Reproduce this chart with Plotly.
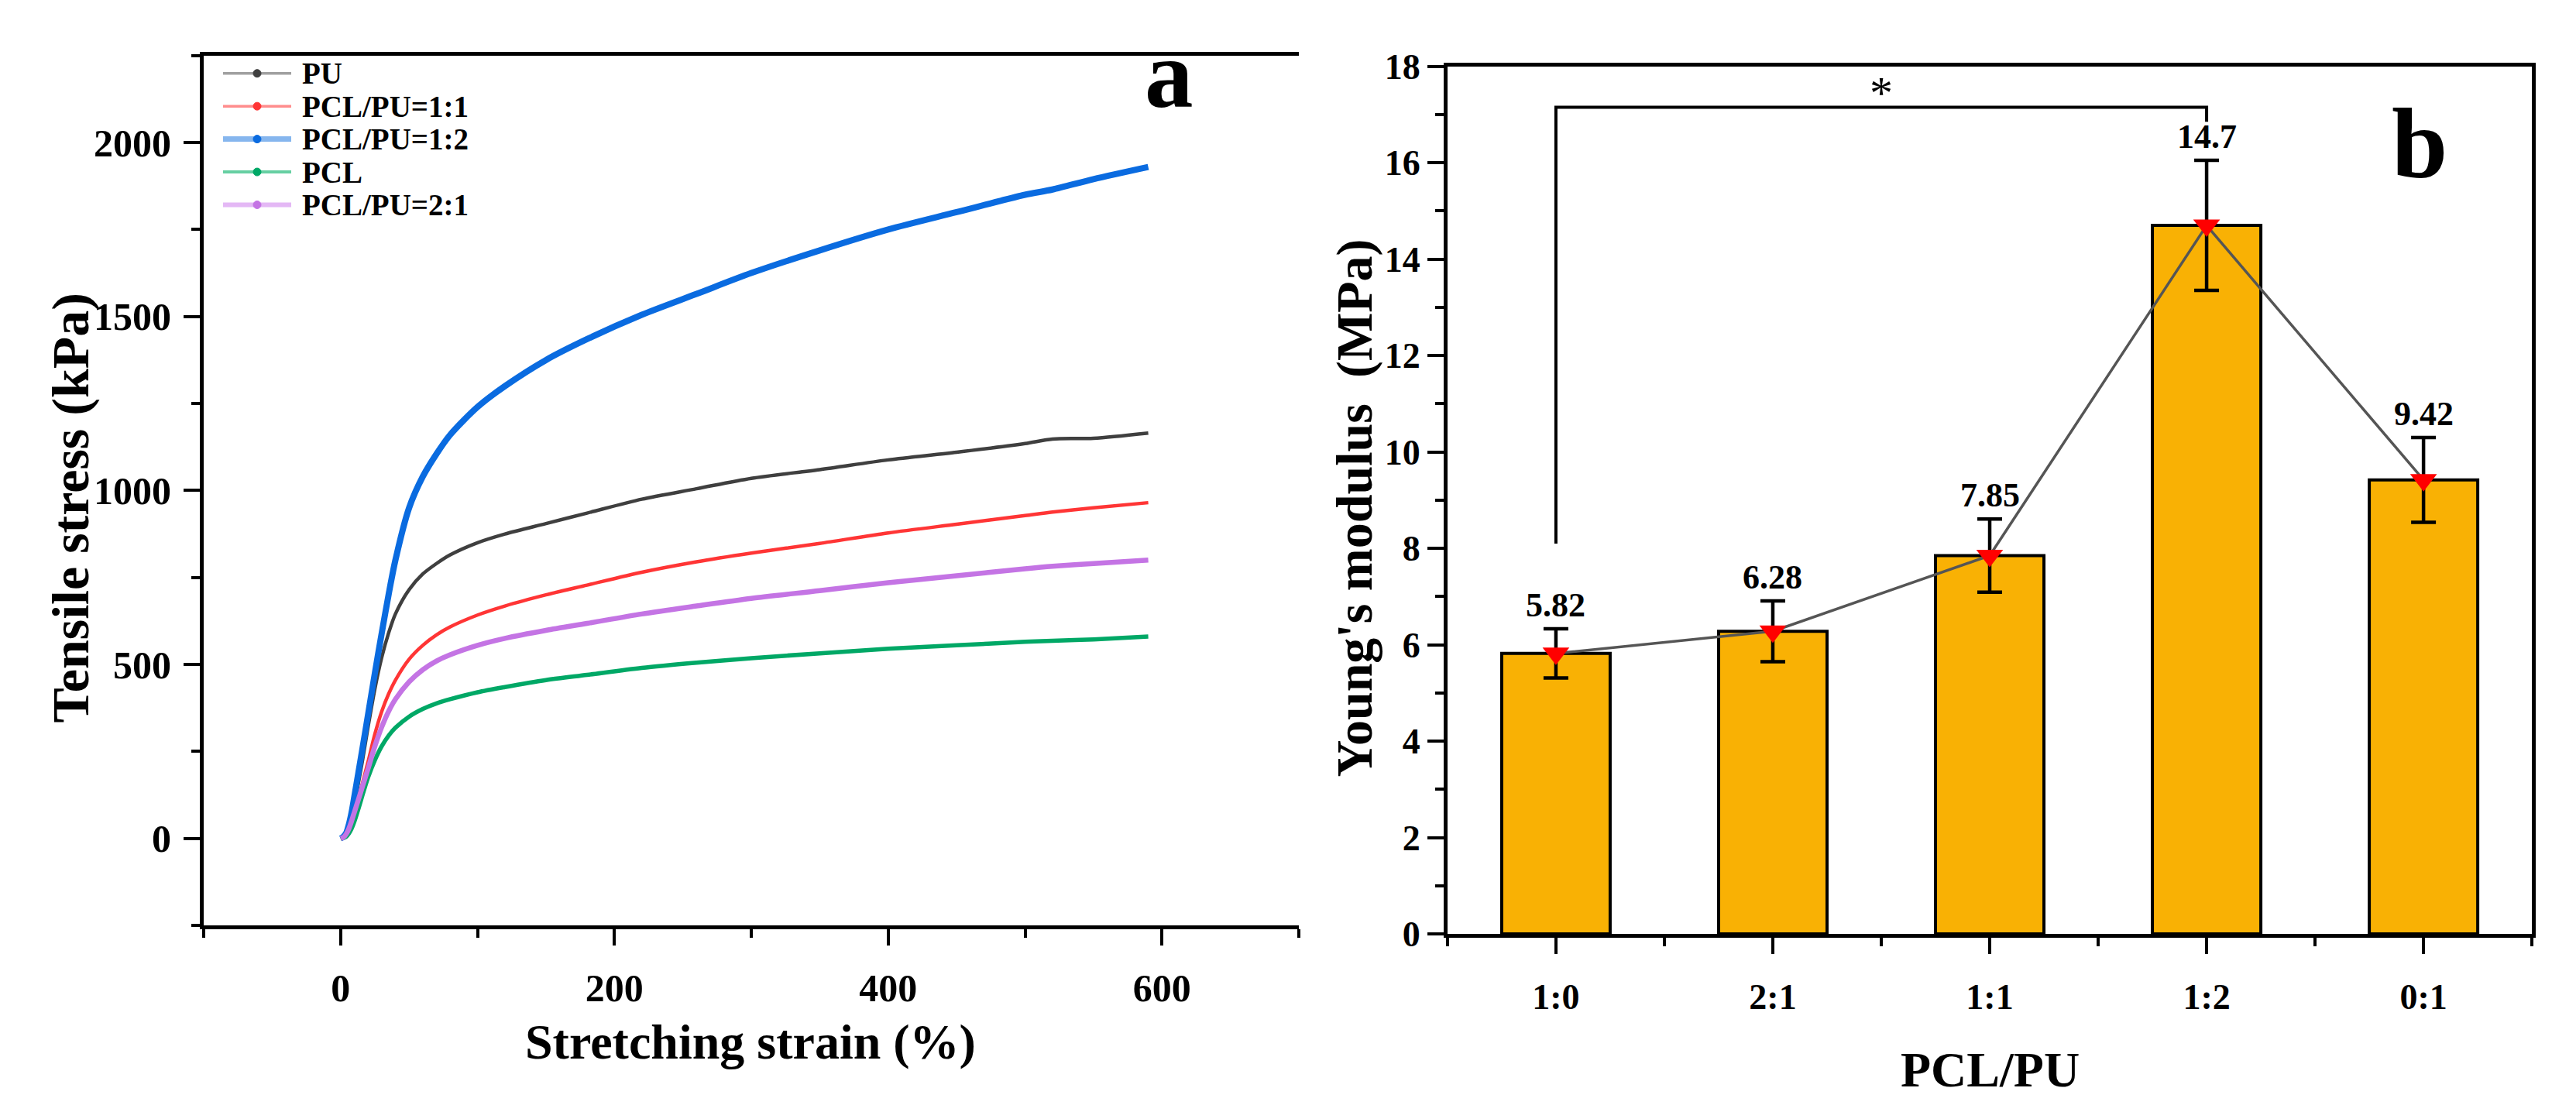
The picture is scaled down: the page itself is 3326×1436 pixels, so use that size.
import plotly.graph_objects as go

# ---- panel a: stress-strain curves ----
strain = [0, 2, 4, 6, 8, 10, 13, 16, 20, 25, 30, 35, 40, 50, 60, 70, 80, 100, 120, 150,
          180, 220, 260, 300, 350, 400, 450, 500, 520, 550, 590]

pu = [0, 4, 14, 35, 65, 100, 160, 225, 320, 430, 520, 590, 645, 715, 760, 790, 815, 850,
      875, 905, 935, 975, 1005, 1035, 1060, 1088, 1110, 1135, 1148, 1150, 1165]
pcl_pu_11 = [0, 3, 12, 28, 50, 75, 115, 160, 220, 300, 365, 415, 455, 515, 555, 585, 608,
             642, 668, 700, 728, 765, 795, 820, 848, 878, 903, 928, 938, 950, 965]
pcl_pu_12 = [0, 5, 15, 40, 75, 120, 190, 260, 355, 475, 590, 700, 800, 950, 1040, 1105,
             1160, 1240, 1300, 1375, 1435, 1505, 1565, 1625, 1690, 1750, 1800, 1850, 1865,
             1895, 1930]
pcl = [0, 1, 5, 14, 28, 48, 85, 125, 175, 225, 265, 295, 318, 350, 372, 388, 400, 420,
       435, 455, 470, 490, 505, 518, 532, 545, 555, 565, 568, 572, 580]
pcl_pu_21 = [0, 3, 12, 28, 50, 75, 112, 150, 200, 265, 320, 365, 400, 450, 485, 510, 528,
             555, 575, 598, 618, 645, 668, 690, 712, 735, 755, 775, 782, 790, 800]

series_names = ["PU", "PCL/PU=1:1", "PCL/PU=1:2", "PCL", "PCL/PU=2:1"]
series_values = [pu, pcl_pu_11, pcl_pu_12, pcl, pcl_pu_21]
series_colors = ["#3f3f3f", "#ff3535", "#0a6be0", "#00a866", "#c474e4"]
legend_line_colors = ["#a0a0a0", "#ff8c8c", "#86b6ee", "#66cfa2", "#e4b8f5"]
series_widths = [4.5, 4.5, 8, 5.5, 6.5]
legend_widths = [3.5, 3.5, 7, 4, 6]

# ---- panel b: Young's modulus ----
ratios = ["1:0", "2:1", "1:1", "1:2", "0:1"]
modulus = [5.82, 6.28, 7.85, 14.7, 9.42]
modulus_err = [0.51, 0.63, 0.76, 1.35, 0.88]

# significance bracket between 1:0 and 1:2
bracket_x = [0, 0, 3, 3]
bracket_y = [8.1, 17.15, 17.15, 16.85]

FONT = "Liberation Serif"
W, H = 3326, 1436

fig = go.Figure()

# curves
for name, ys, color, w in zip(series_names, series_values, series_colors, series_widths):
    fig.add_trace(go.Scatter(x=strain, y=ys, mode="lines", name=name, showlegend=False,
                             line=dict(color=color, width=w, shape="spline", smoothing=0.8),
                             xaxis="x", yaxis="y"))

# bars
xpos = list(range(len(ratios)))
fig.add_trace(go.Bar(x=xpos, y=modulus, width=0.5, showlegend=False,
                     marker=dict(color="#f9b104", line=dict(color="black", width=4)),
                     error_y=dict(type="data", array=modulus_err, color="black",
                                  thickness=4.5, width=16),
                     xaxis="x2", yaxis="y2"))

# connecting line with red triangles
fig.add_trace(go.Scatter(x=xpos, y=modulus, mode="lines+markers", showlegend=False,
                         line=dict(color="#555555", width=3.5),
                         marker=dict(symbol="triangle-down", color="red", size=30),
                         xaxis="x2", yaxis="y2"))

# bracket
fig.add_trace(go.Scatter(x=bracket_x, y=bracket_y, mode="lines", showlegend=False,
                         line=dict(color="black", width=4),
                         xaxis="x2", yaxis="y2"))

annotations = []
shapes = []

# Origin-style legend box (compact rows), drawn in paper coordinates
leg_x0, leg_x1, leg_text = 280 / W, 368 / W, 380 / W
leg_top, leg_step = 1 - 64 / H, 44 / H
for i, (name, color, lc, lw) in enumerate(zip(series_names, series_colors,
                                              legend_line_colors, legend_widths)):
    yy = leg_top - i * leg_step
    shapes.append(dict(type="line", xref="paper", yref="paper", x0=leg_x0, x1=leg_x1,
                       y0=yy, y1=yy, line=dict(color=lc, width=lw)))
    shapes.append(dict(type="circle", xref="paper", yref="paper",
                       xsizemode="pixel", ysizemode="pixel",
                       xanchor=(leg_x0 + leg_x1) / 2, yanchor=yy,
                       x0=-5, x1=5, y0=-5, y1=5,
                       fillcolor=color, line=dict(color=color, width=1)))
    annotations.append(dict(x=leg_text, y=yy, xref="paper", yref="paper", text=name,
                            showarrow=False, xanchor="left", yanchor="middle",
                            font=dict(family=FONT, size=39, color="black", weight="bold")))

# value labels above the error bars
for x, v, e in zip(xpos, modulus, modulus_err):
    annotations.append(dict(x=x, y=v + e + 0.06, xref="x2", yref="y2", text=str(v),
                            showarrow=False, xanchor="center", yanchor="bottom",
                            font=dict(family=FONT, size=44, color="black", weight="bold")))
annotations.append(dict(x=1.5, y=17.45, xref="x2", yref="y2", text="*", showarrow=False,
                        xanchor="center", yanchor="middle",
                        font=dict(family=FONT, size=60, color="black")))

# panel letters
annotations.append(dict(x=605, y=2195, xref="x", yref="y", text="a", showarrow=False,
                        xanchor="center", yanchor="middle",
                        font=dict(family=FONT, size=125, color="black", weight="bold")))
annotations.append(dict(x=3.98, y=16.4, xref="x2", yref="y2", text="b", showarrow=False,
                        xanchor="center", yanchor="middle",
                        font=dict(family=FONT, size=130, color="black", weight="bold")))

# axis titles
annotations.append(dict(x=0.289, y=0.052, xref="paper", yref="paper",
                        xanchor="center", yanchor="middle",
                        text="Stretching strain (%)", showarrow=False,
                        font=dict(family=FONT, size=64, color="black", weight="bold")))
annotations.append(dict(x=0.025, y=0.55, xref="paper", yref="paper", textangle=-90,
                        xanchor="center", yanchor="middle",
                        text="Tensile stress (kPa)", showarrow=False,
                        font=dict(family=FONT, size=68, color="black", weight="bold")))
annotations.append(dict(x=0.770, y=0.026, xref="paper", yref="paper",
                        xanchor="center", yanchor="middle",
                        text="PCL/PU", showarrow=False,
                        font=dict(family=FONT, size=64, color="black", weight="bold")))
annotations.append(dict(x=0.5235, y=0.55, xref="paper", yref="paper", textangle=-90,
                        xanchor="center", yanchor="middle",
                        text="Young's modulus  (MPa)", showarrow=False,
                        font=dict(family=FONT, size=66, color="black", weight="bold")))

axis_common = dict(showline=True, linecolor="black", linewidth=5, showgrid=False,
                   zeroline=False, ticks="outside", ticklen=21, tickwidth=4,
                   tickcolor="black")
font_a = dict(family=FONT, size=50, color="black", weight="bold")
font_b = dict(family=FONT, size=46, color="black", weight="bold")

fig.update_layout(
    width=W, height=H,
    margin=dict(l=0, r=0, t=0, b=0),
    plot_bgcolor="white", paper_bgcolor="white",
    showlegend=False,
    annotations=annotations,
    shapes=shapes,
    xaxis=dict(domain=[0.0767, 0.5018], range=[-100, 700], tick0=0, dtick=200,
               mirror=True, tickfont=font_a, ticklabelstandoff=12,
               minor=dict(tick0=0, dtick=100, ticks="outside", ticklen=11,
                          tickwidth=4, tickcolor="black"),
               anchor="y", **axis_common),
    yaxis=dict(domain=[0.161, 0.972], range=[-250, 2250], tick0=0, dtick=500,
               tickfont=font_a, ticklabelstandoff=6,
               minor=dict(tick0=0, dtick=250, ticks="outside", ticklen=11,
                          tickwidth=4, tickcolor="black"),
               anchor="x", **axis_common),
    xaxis2=dict(domain=[0.5595, 0.9805], range=[-0.5, 4.5], tickmode="array",
                tickvals=xpos, ticktext=ratios, mirror=True, tickfont=font_b,
                ticklabelstandoff=16,
                minor=dict(tickmode="linear", tick0=-0.5, dtick=1, ticks="outside",
                           ticklen=11, tickwidth=4, tickcolor="black"),
                anchor="y2", **axis_common),
    yaxis2=dict(domain=[0.153, 0.962], range=[0, 18], tick0=0, dtick=2, mirror=True,
                tickfont=font_b,
                minor=dict(tick0=0, dtick=1, ticks="outside", ticklen=11,
                           tickwidth=4, tickcolor="black"),
                anchor="x2", **axis_common),
)

fig.write_html("out.html")
